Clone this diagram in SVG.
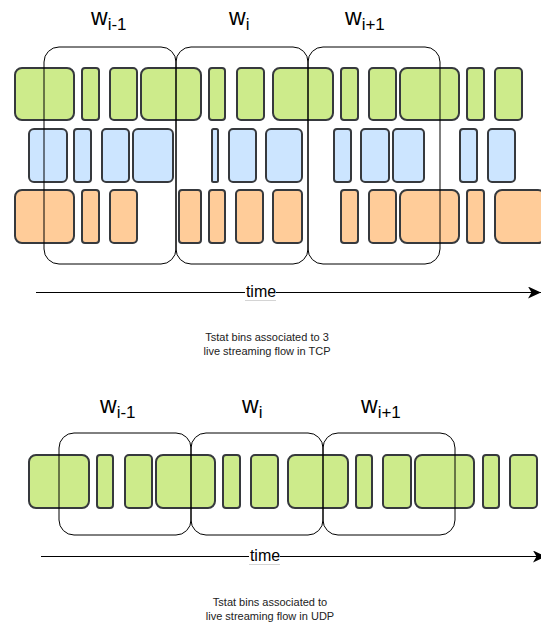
<svg xmlns="http://www.w3.org/2000/svg" width="541" height="623" viewBox="0 0 541 623">
<style>
.b{stroke:#36393d;stroke-width:2}
.g{fill:#cdeb8b}
.u{fill:#cce5ff}
.o{fill:#ffcc99}
.win{fill:none;stroke:#000;stroke-width:1}
.axis{stroke:#000;stroke-width:1;fill:none}
.lbl{font-family:"Liberation Sans",Arial,sans-serif;font-size:23px;fill:#000}
.sub{font-size:17px}
.time{font-family:"Liberation Sans",Arial,sans-serif;font-size:16px;fill:#000;text-anchor:middle}
.cap{font-family:"Liberation Sans",Arial,sans-serif;font-size:11px;fill:#222;text-anchor:middle}
.ul{stroke:#d4d4d4;stroke-width:1}
</style>
<defs>
<marker id="arr" markerUnits="userSpaceOnUse" viewBox="0 0 13 12" markerWidth="13" markerHeight="12" refX="13" refY="6" orient="auto">
<path d="M0,0 L13,6 L0,12 L3.5,6 Z" fill="#000"/>
</marker>
</defs>

<!-- TCP: green row -->
<g id="tcp-green">
<g id="tg1"><rect class="b g" x="15" y="68" width="59" height="52" rx="7"/></g>
<g id="tg2"><rect class="b g" x="82" y="68" width="17" height="52" rx="3"/></g>
<g id="tg3"><rect class="b g" x="110" y="68" width="27" height="52" rx="4"/></g>
<g id="tg4"><rect class="b g" x="141" y="68" width="60" height="52" rx="7"/></g>
<g id="tg5"><rect class="b g" x="209" y="68" width="16" height="52" rx="3"/></g>
<g id="tg6"><rect class="b g" x="237" y="68" width="27" height="52" rx="4"/></g>
<g id="tg7"><rect class="b g" x="273" y="68" width="60" height="52" rx="7"/></g>
<g id="tg8"><rect class="b g" x="341" y="68" width="17" height="52" rx="3"/></g>
<g id="tg9"><rect class="b g" x="369" y="68" width="27" height="52" rx="4"/></g>
<g id="tg10"><rect class="b g" x="400" y="68" width="59" height="52" rx="7"/></g>
<g id="tg11"><rect class="b g" x="467" y="68" width="17" height="52" rx="3"/></g>
<g id="tg12"><rect class="b g" x="495" y="68" width="27" height="52" rx="4"/></g>
</g>

<!-- TCP: blue row -->
<g id="tcp-blue">
<g id="tb1"><rect class="b u" x="29" y="129" width="38" height="53" rx="5"/></g>
<g id="tb2"><rect class="b u" x="74" y="129" width="17" height="53" rx="3"/></g>
<g id="tb3"><rect class="b u" x="102" y="129" width="27" height="53" rx="4"/></g>
<g id="tb4"><rect class="b u" x="133" y="129" width="40" height="53" rx="5"/></g>
<g id="tb5"><rect class="b u" x="212" y="129" width="6" height="53" rx="1.5"/></g>
<g id="tb6"><rect class="b u" x="229" y="129" width="27" height="53" rx="4"/></g>
<g id="tb7"><rect class="b u" x="266" y="129" width="36" height="53" rx="5"/></g>
<g id="tb8"><rect class="b u" x="334" y="129" width="17" height="53" rx="3"/></g>
<g id="tb9"><rect class="b u" x="361" y="129" width="28" height="53" rx="4"/></g>
<g id="tb10"><rect class="b u" x="393" y="129" width="31" height="53" rx="4"/></g>
<g id="tb11"><rect class="b u" x="460" y="129" width="17" height="53" rx="3"/></g>
<g id="tb12"><rect class="b u" x="488" y="129" width="27" height="53" rx="4"/></g>
</g>

<!-- TCP: orange row -->
<g id="tcp-orange">
<g id="to1"><rect class="b o" x="15" y="190" width="59" height="53" rx="7"/></g>
<g id="to2"><rect class="b o" x="82" y="190" width="17" height="53" rx="3"/></g>
<g id="to3"><rect class="b o" x="110" y="190" width="27" height="53" rx="4"/></g>
<g id="to4"><rect class="b o" x="179" y="190" width="22" height="53" rx="3"/></g>
<g id="to5"><rect class="b o" x="209" y="190" width="16" height="53" rx="3"/></g>
<g id="to6"><rect class="b o" x="236" y="190" width="27" height="53" rx="4"/></g>
<g id="to7"><rect class="b o" x="273" y="190" width="29" height="53" rx="4"/></g>
<g id="to8"><rect class="b o" x="341" y="190" width="17" height="53" rx="3"/></g>
<g id="to9"><rect class="b o" x="369" y="190" width="27" height="53" rx="4"/></g>
<g id="to10"><rect class="b o" x="400" y="190" width="59" height="53" rx="7"/></g>
<g id="to11"><rect class="b o" x="467" y="190" width="17" height="53" rx="3"/></g>
<g id="to12"><rect class="b o" x="495" y="190" width="50" height="53" rx="7"/></g>
</g>

<!-- TCP windows -->
<g id="tcp-win-1"><rect class="win" x="44" y="47" width="132" height="217" rx="15"/><text class="lbl" x="91" y="25">w<tspan class="sub" dy="5">i-1</tspan></text></g>
<g id="tcp-win-2"><rect class="win" x="176" y="47" width="132" height="217" rx="15"/><text class="lbl" x="229" y="25">w<tspan class="sub" dy="5">i</tspan></text></g>
<g id="tcp-win-3"><rect class="win" x="308" y="47" width="132" height="217" rx="15"/><text class="lbl" x="345" y="25">w<tspan class="sub" dy="5">i+1</tspan></text></g>

<!-- UDP: green row -->
<g id="udp-green">
<g id="ug1"><rect class="b g" x="29" y="455" width="60" height="53" rx="7"/></g>
<g id="ug2"><rect class="b g" x="97" y="455" width="16" height="53" rx="3"/></g>
<g id="ug3"><rect class="b g" x="125" y="455" width="27" height="53" rx="4"/></g>
<g id="ug4"><rect class="b g" x="156" y="455" width="59" height="53" rx="7"/></g>
<g id="ug5"><rect class="b g" x="223" y="455" width="17" height="53" rx="3"/></g>
<g id="ug6"><rect class="b g" x="251" y="455" width="27" height="53" rx="4"/></g>
<g id="ug7"><rect class="b g" x="288" y="455" width="60" height="53" rx="7"/></g>
<g id="ug8"><rect class="b g" x="356" y="455" width="16" height="53" rx="3"/></g>
<g id="ug9"><rect class="b g" x="383" y="455" width="28" height="53" rx="4"/></g>
<g id="ug10"><rect class="b g" x="415" y="455" width="59" height="53" rx="7"/></g>
<g id="ug11"><rect class="b g" x="483" y="455" width="16" height="53" rx="3"/></g>
<g id="ug12"><rect class="b g" x="510" y="455" width="27" height="53" rx="4"/></g>
</g>

<!-- UDP windows -->
<g id="udp-win-1"><rect class="win" x="59" y="433" width="132" height="102" rx="15"/><text class="lbl" x="100" y="413">w<tspan class="sub" dy="5">i-1</tspan></text></g>
<g id="udp-win-2"><rect class="win" x="191" y="433" width="132" height="102" rx="15"/><text class="lbl" x="242" y="413">w<tspan class="sub" dy="5">i</tspan></text></g>
<g id="udp-win-3"><rect class="win" x="323" y="433" width="132" height="102" rx="15"/><text class="lbl" x="361" y="413">w<tspan class="sub" dy="5">i+1</tspan></text></g>

<!-- connectors: time axes -->
<g id="connectors">
<line class="axis" x1="36" y1="292.5" x2="541" y2="292.5" marker-end="url(#arr)"/>
<line class="axis" x1="41" y1="556.5" x2="546" y2="556.5" marker-end="url(#arr)"/>
</g>

<g id="time-top">
<rect x="245" y="284" width="31" height="14" fill="#fff"/>
<line class="ul" x1="245" y1="300.5" x2="276" y2="300.5"/>
<text class="time" x="261" y="297">time</text>
</g>
<g id="time-bottom">
<rect x="249" y="548" width="31" height="14" fill="#fff"/>
<line class="ul" x1="249" y1="564.5" x2="280" y2="564.5"/>
<text class="time" x="265" y="561">time</text>
</g>

<g id="caption-tcp">
<text class="cap" x="267" y="341">Tstat bins associated to 3</text>
<text class="cap" x="267" y="355">live streaming flow in TCP</text>
</g>
<g id="caption-udp">
<text class="cap" x="270" y="606">Tstat bins associated to</text>
<text class="cap" x="270" y="620">live streaming flow in UDP</text>
</g>
</svg>
